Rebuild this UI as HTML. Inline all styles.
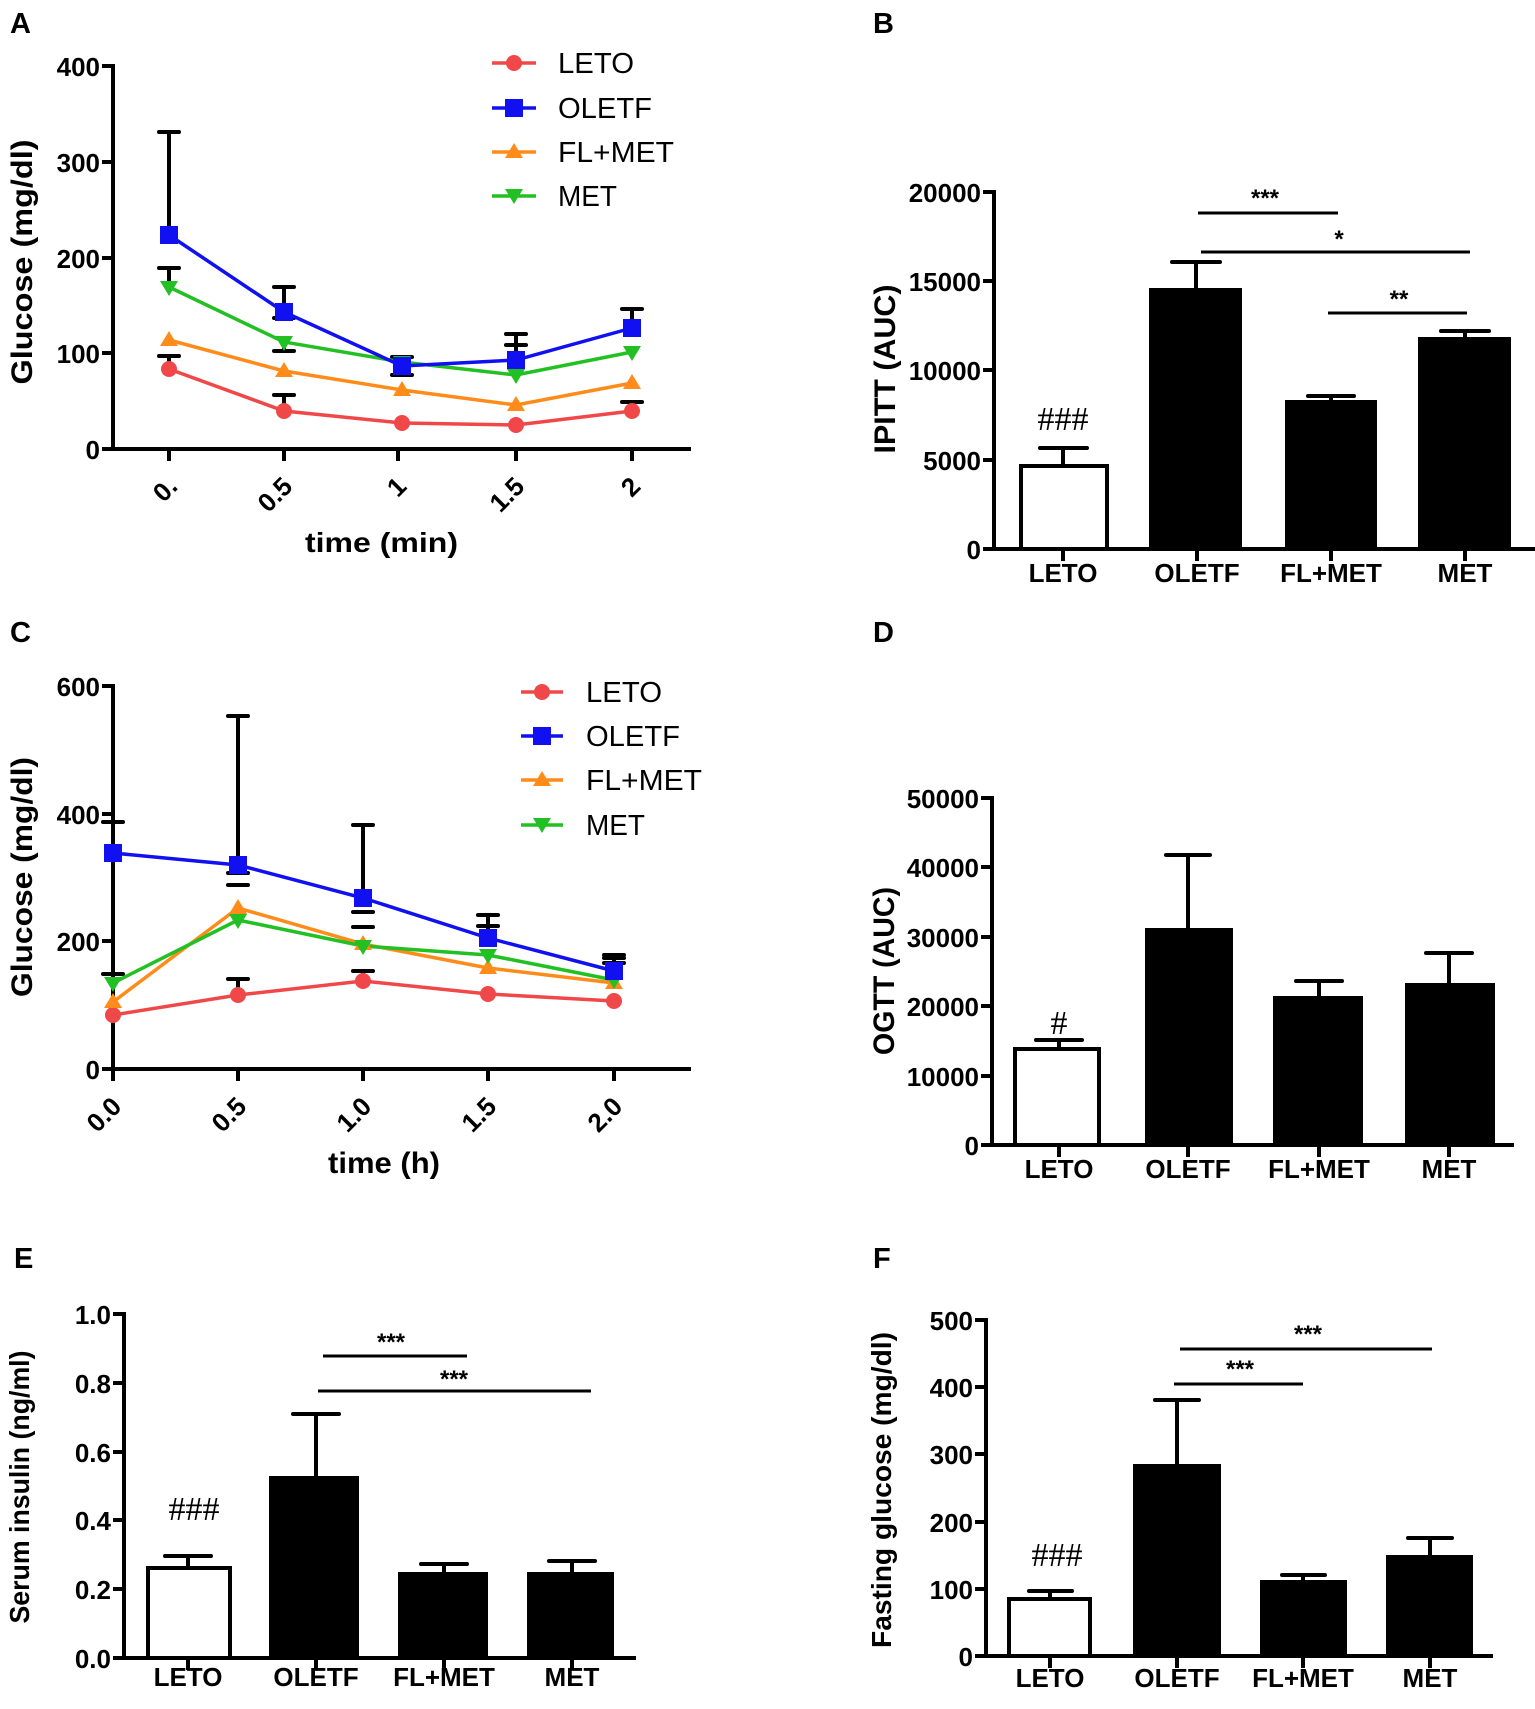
<!DOCTYPE html>
<html><head><meta charset="utf-8"><style>
html,body{margin:0;padding:0;background:#fff;}
svg{display:block;}
text{font-family:"Liberation Sans",Arial,sans-serif;}
.b{font-weight:bold;}
.t{font-size:26px;font-weight:bold;}
.ax{stroke:#000;stroke-width:4;fill:none;}
.eb{stroke:#000;stroke-width:4;fill:none;stroke-linecap:round;}
.sig{stroke:#000;stroke-width:3;}
.st{font-size:24px;font-weight:bold;}
.hash{font-family:"Liberation Serif",serif;font-size:34px;}
</style></head><body>
<svg width="1535" height="1709" viewBox="0 0 1535 1709" xmlns="http://www.w3.org/2000/svg">
<rect width="1535" height="1709" fill="#fff"/>

<!-- ============ PANEL A ============ -->
<text x="10" y="33" class="b" font-size="29">A</text>
<path class="ax" d="M113 64 V449 M113 449 H691"/>
<path class="ax" d="M102 66 H113 M102 162 H113 M102 258 H113 M102 353 H113 M102 449 H113"/>
<path class="ax" d="M169 449 V461 M284 449 V461 M398 449 V461 M516 449 V461 M632 449 V461"/>
<g class="t" text-anchor="end">
<text x="100" y="76">400</text><text x="100" y="172">300</text><text x="100" y="268">200</text><text x="100" y="363">100</text><text x="100" y="459">0</text>
</g>
<g class="t" text-anchor="end">
<text transform="translate(179,488) rotate(-45)">0.</text>
<text transform="translate(294,488) rotate(-45)">0.5</text>
<text transform="translate(408,488) rotate(-45)">1</text>
<text transform="translate(526,488) rotate(-45)">1.5</text>
<text transform="translate(642,488) rotate(-45)">2</text>
</g>
<text x="305" y="552" class="b" font-size="28" textLength="153" lengthAdjust="spacingAndGlyphs">time  (min)</text>
<text transform="translate(32,262) rotate(-90)" class="b" font-size="30" text-anchor="middle" textLength="245" lengthAdjust="spacingAndGlyphs">Glucose  (mg/dl)</text>
<g class="eb">
<path d="M169 235 V132 M159 132 H179"/>
<path d="M284 312 V287 M274 287 H294"/>
<path d="M516 360 V334 M506 334 H526"/>
<path d="M632 328 V309 M622 309 H642"/>
<path d="M169 287 V268 M159 268 H179"/>
<path d="M284 342 V351 M274 351 H294 M274 318 H294"/>
<path d="M402 362 V357 M392 357 H412 M392 375 H412"/>
<path d="M516 375 V345 M506 345 H526"/>
<path d="M169 369 V356 M159 356 H179"/>
<path d="M284 411 V395 M274 395 H294"/>
<path d="M632 411 V402 M622 402 H642"/>
</g>
<polyline points="169,369 284,411 402,423 516,425 632,411" fill="none" stroke="#f04848" stroke-width="3.5"/>
<polyline points="169,340 284,371 402,390 516,405 632,383" fill="none" stroke="#ff8c1a" stroke-width="3.5"/>
<polyline points="169,287 284,342 402,362 516,375 632,352" fill="none" stroke="#22c022" stroke-width="3.5"/>
<polyline points="169,235 284,312 402,366 516,360 632,328" fill="none" stroke="#1010f0" stroke-width="3.5"/>
<g fill="#f04848"><circle cx="169" cy="369" r="8"/><circle cx="284" cy="411" r="8"/><circle cx="402" cy="423" r="8"/><circle cx="516" cy="425" r="8"/><circle cx="632" cy="411" r="8"/></g>
<g fill="#ff8c1a"><path d="M169 331 l9 15 h-18z M284 362 l9 15 h-18z M402 381 l9 15 h-18z M516 396 l9 15 h-18z M632 374 l9 15 h-18z"/></g>
<g fill="#22c022"><path d="M169 296 l9 -15 h-18z M284 351 l9 -15 h-18z M402 371 l9 -15 h-18z M516 384 l9 -15 h-18z M632 361 l9 -15 h-18z"/></g>
<g fill="#1010f0"><rect x="160" y="226" width="18" height="18"/><rect x="275" y="303" width="18" height="18"/><rect x="393" y="357" width="18" height="18"/><rect x="507" y="351" width="18" height="18"/><rect x="623" y="319" width="18" height="18"/></g>
<line x1="492" y1="63" x2="536" y2="63" stroke="#f04848" stroke-width="3.5"/><circle cx="514" cy="63" r="8" fill="#f04848"/>
<line x1="492" y1="108" x2="536" y2="108" stroke="#1010f0" stroke-width="3.5"/><rect x="505" y="99" width="18" height="18" fill="#1010f0"/>
<line x1="492" y1="152" x2="536" y2="152" stroke="#ff8c1a" stroke-width="3.5"/><path d="M514 143 l9 15 h-18z" fill="#ff8c1a"/>
<line x1="492" y1="196" x2="536" y2="196" stroke="#22c022" stroke-width="3.5"/><path d="M514 204 l9 -15 h-18z" fill="#22c022"/>
<g font-size="29">
<text x="558" y="73" textLength="76" lengthAdjust="spacingAndGlyphs">LETO</text>
<text x="558" y="118" textLength="94" lengthAdjust="spacingAndGlyphs">OLETF</text>
<text x="558" y="162" textLength="116" lengthAdjust="spacingAndGlyphs">FL+MET</text>
<text x="558" y="206" textLength="59" lengthAdjust="spacingAndGlyphs">MET</text>
</g>

<!-- ============ PANEL B ============ -->
<text x="873" y="33" class="b" font-size="29">B</text>
<path class="ax" d="M994 190 V549 M994 549 H1535"/>
<path class="ax" d="M983 192 H994 M983 281 H994 M983 370 H994 M983 460 H994 M983 549 H994"/>
<path class="ax" d="M1063 549 V561 M1197 549 V561 M1331 549 V561 M1465 549 V561"/>
<g class="t" text-anchor="end">
<text x="981" y="202">20000</text><text x="981" y="291">15000</text><text x="981" y="380">10000</text><text x="981" y="470">5000</text><text x="981" y="559">0</text>
</g>
<g class="t" text-anchor="middle">
<text x="1063" y="582">LETO</text><text x="1197" y="582">OLETF</text><text x="1331" y="582">FL+MET</text><text x="1465" y="582">MET</text>
</g>
<text transform="translate(895,369) rotate(-90)" class="b" font-size="30" text-anchor="middle" textLength="169" lengthAdjust="spacingAndGlyphs">IPITT  (AUC)</text>
<rect x="1021" y="466" width="86" height="83" fill="#fff" stroke="#000" stroke-width="4"/>
<rect x="1149" y="288" width="93" height="261" fill="#000"/>
<rect x="1285" y="400" width="92" height="149" fill="#000"/>
<rect x="1418" y="337" width="93" height="212" fill="#000"/>
<g class="eb">
<path d="M1063 464 V448 M1040 448 H1087"/>
<path d="M1196 288 V262 M1172 262 H1220"/>
<path d="M1331 400 V396 M1308 396 H1354"/>
<path d="M1465 337 V331 M1441 331 H1489"/>
</g>
<g class="sig"><line x1="1198" y1="213" x2="1338" y2="213"/><line x1="1201" y1="252" x2="1470" y2="252"/><line x1="1328" y1="313" x2="1467" y2="313"/></g>
<g class="st" text-anchor="middle"><text x="1265" y="206">***</text><text x="1339" y="247">*</text><text x="1399" y="307">**</text></g>
<text x="1063" y="430" class="hash" text-anchor="middle">###</text>

<!-- ============ PANEL C ============ -->
<text x="10" y="642" class="b" font-size="29">C</text>
<path class="ax" d="M113 684 V1069 M113 1069 H691"/>
<path class="ax" d="M102 686 H113 M102 814 H113 M102 941 H113 M102 1069 H113"/>
<path class="ax" d="M113 1069 V1081 M238 1069 V1081 M363 1069 V1081 M488 1069 V1081 M614 1069 V1081"/>
<g class="t" text-anchor="end">
<text x="100" y="696">600</text><text x="100" y="824">400</text><text x="100" y="951">200</text><text x="100" y="1079">0</text>
</g>
<g class="t" text-anchor="end">
<text transform="translate(123,1108) rotate(-45)">0.0</text>
<text transform="translate(248,1108) rotate(-45)">0.5</text>
<text transform="translate(373,1108) rotate(-45)">1.0</text>
<text transform="translate(498,1108) rotate(-45)">1.5</text>
<text transform="translate(624,1108) rotate(-45)">2.0</text>
</g>
<text x="328" y="1173" class="b" font-size="30" textLength="112" lengthAdjust="spacingAndGlyphs">time (h)</text>
<text transform="translate(32,877) rotate(-90)" class="b" font-size="30" text-anchor="middle" textLength="240" lengthAdjust="spacingAndGlyphs">Glucose  (mg/dl)</text>
<g class="eb">
<path d="M113 853 V822 M103 822 H123"/>
<path d="M113 983 V974 M103 974 H123"/>
<path d="M238 865 V716 M228 716 H248 M228 873 H248 M228 885 H248"/>
<path d="M238 995 V979 M228 979 H248"/>
<path d="M363 898 V825 M353 825 H373 M353 912 H373 M353 927 H373"/>
<path d="M363 981 V971 M353 971 H373"/>
<path d="M488 938 V915 M478 915 H498 M478 926 H498"/>
<path d="M614 971 V955 M604 955 H624 M604 958 H624 M604 963 H624"/>
</g>
<polyline points="113,1015 238,995 363,981 488,994 614,1001" fill="none" stroke="#f04848" stroke-width="3.5"/>
<polyline points="113,1002 238,908 363,944 488,968 614,983" fill="none" stroke="#ff8c1a" stroke-width="3.5"/>
<polyline points="113,983 238,920 363,946 488,955 614,980" fill="none" stroke="#22c022" stroke-width="3.5"/>
<polyline points="113,853 238,865 363,898 488,938 614,971" fill="none" stroke="#1010f0" stroke-width="3.5"/>
<g fill="#f04848"><circle cx="113" cy="1015" r="8"/><circle cx="238" cy="995" r="8"/><circle cx="363" cy="981" r="8"/><circle cx="488" cy="994" r="8"/><circle cx="614" cy="1001" r="8"/></g>
<g fill="#ff8c1a"><path d="M113 993 l9 15 h-18z M238 899 l9 15 h-18z M363 935 l9 15 h-18z M488 959 l9 15 h-18z M614 974 l9 15 h-18z"/></g>
<g fill="#22c022"><path d="M113 992 l9 -15 h-18z M238 929 l9 -15 h-18z M363 955 l9 -15 h-18z M488 964 l9 -15 h-18z M614 989 l9 -15 h-18z"/></g>
<g fill="#1010f0"><rect x="104" y="844" width="18" height="18"/><rect x="229" y="856" width="18" height="18"/><rect x="354" y="889" width="18" height="18"/><rect x="479" y="929" width="18" height="18"/><rect x="605" y="962" width="18" height="18"/></g>
<line x1="521" y1="692" x2="563" y2="692" stroke="#f04848" stroke-width="3.5"/><circle cx="542" cy="692" r="8" fill="#f04848"/>
<line x1="521" y1="736" x2="563" y2="736" stroke="#1010f0" stroke-width="3.5"/><rect x="533" y="727" width="18" height="18" fill="#1010f0"/>
<line x1="521" y1="780" x2="563" y2="780" stroke="#ff8c1a" stroke-width="3.5"/><path d="M542 771 l9 15 h-18z" fill="#ff8c1a"/>
<line x1="521" y1="825" x2="563" y2="825" stroke="#22c022" stroke-width="3.5"/><path d="M542 833 l9 -15 h-18z" fill="#22c022"/>
<g font-size="29">
<text x="586" y="702" textLength="76" lengthAdjust="spacingAndGlyphs">LETO</text>
<text x="586" y="746" textLength="94" lengthAdjust="spacingAndGlyphs">OLETF</text>
<text x="586" y="790" textLength="116" lengthAdjust="spacingAndGlyphs">FL+MET</text>
<text x="586" y="835" textLength="59" lengthAdjust="spacingAndGlyphs">MET</text>
</g>

<!-- ============ PANEL D ============ -->
<text x="873" y="642" class="b" font-size="29">D</text>
<path class="ax" d="M992 796 V1145 M992 1145 H1514"/>
<path class="ax" d="M981 798 H992 M981 867 H992 M981 937 H992 M981 1006 H992 M981 1076 H992 M981 1145 H992"/>
<path class="ax" d="M1059 1145 V1157 M1188 1145 V1157 M1319 1145 V1157 M1449 1145 V1157"/>
<g class="t" text-anchor="end">
<text x="979" y="808">50000</text><text x="979" y="877">40000</text><text x="979" y="947">30000</text><text x="979" y="1016">20000</text><text x="979" y="1086">10000</text><text x="979" y="1155">0</text>
</g>
<g class="t" text-anchor="middle">
<text x="1059" y="1178">LETO</text><text x="1188" y="1178">OLETF</text><text x="1319" y="1178">FL+MET</text><text x="1449" y="1178">MET</text>
</g>
<text transform="translate(894,971) rotate(-90)" class="b" font-size="30" text-anchor="middle" textLength="168" lengthAdjust="spacingAndGlyphs">OGTT (AUC)</text>
<rect x="1015" y="1049" width="84" height="96" fill="#fff" stroke="#000" stroke-width="4"/>
<rect x="1145" y="928" width="88" height="217" fill="#000"/>
<rect x="1273" y="996" width="90" height="149" fill="#000"/>
<rect x="1405" y="983" width="90" height="162" fill="#000"/>
<g class="eb">
<path d="M1059 1047 V1040 M1036 1040 H1082"/>
<path d="M1188 928 V855 M1166 855 H1210"/>
<path d="M1319 996 V981 M1296 981 H1342"/>
<path d="M1449 983 V953 M1426 953 H1472"/>
</g>
<text x="1059" y="1034" class="hash" text-anchor="middle">#</text>

<!-- ============ PANEL E ============ -->
<text x="14" y="1268" class="b" font-size="29">E</text>
<path class="ax" d="M124 1312 V1658 M124 1658 H636"/>
<path class="ax" d="M113 1314 H124 M113 1383 H124 M113 1452 H124 M113 1520 H124 M113 1589 H124 M113 1658 H124"/>
<path class="ax" d="M188 1658 V1670 M316 1658 V1670 M444 1658 V1670 M572 1658 V1670"/>
<g class="t" text-anchor="end">
<text x="111" y="1324">1.0</text><text x="111" y="1393">0.8</text><text x="111" y="1462">0.6</text><text x="111" y="1530">0.4</text><text x="111" y="1599">0.2</text><text x="111" y="1668">0.0</text>
</g>
<g class="t" text-anchor="middle">
<text x="188" y="1686">LETO</text><text x="316" y="1686">OLETF</text><text x="444" y="1686">FL+MET</text><text x="572" y="1686">MET</text>
</g>
<text transform="translate(29,1487) rotate(-90)" class="b" font-size="28" text-anchor="middle" textLength="273" lengthAdjust="spacingAndGlyphs">Serum insulin (ng/ml)</text>
<rect x="148" y="1568" width="82" height="90" fill="#fff" stroke="#000" stroke-width="4"/>
<rect x="269" y="1476" width="90" height="182" fill="#000"/>
<rect x="398" y="1572" width="90" height="86" fill="#000"/>
<rect x="527" y="1572" width="87" height="86" fill="#000"/>
<g class="eb">
<path d="M188 1566 V1556 M165 1556 H211"/>
<path d="M316 1476 V1414 M293 1414 H339"/>
<path d="M444 1572 V1564 M421 1564 H467"/>
<path d="M572 1572 V1561 M549 1561 H595"/>
</g>
<g class="sig"><line x1="323" y1="1356" x2="467" y2="1356"/><line x1="318" y1="1391" x2="591" y2="1391"/></g>
<g class="st" text-anchor="middle"><text x="391" y="1350">***</text><text x="454" y="1387">***</text></g>
<text x="194" y="1520" class="hash" text-anchor="middle">###</text>

<!-- ============ PANEL F ============ -->
<text x="873" y="1268" class="b" font-size="29">F</text>
<path class="ax" d="M986 1318 V1656 M986 1656 H1493"/>
<path class="ax" d="M975 1320 H986 M975 1387 H986 M975 1454 H986 M975 1522 H986 M975 1589 H986 M975 1656 H986"/>
<path class="ax" d="M1050 1656 V1668 M1177 1656 V1668 M1303 1656 V1668 M1430 1656 V1668"/>
<g class="t" text-anchor="end">
<text x="973" y="1330">500</text><text x="973" y="1397">400</text><text x="973" y="1464">300</text><text x="973" y="1532">200</text><text x="973" y="1599">100</text><text x="973" y="1666">0</text>
</g>
<g class="t" text-anchor="middle">
<text x="1050" y="1687">LETO</text><text x="1177" y="1687">OLETF</text><text x="1303" y="1687">FL+MET</text><text x="1430" y="1687">MET</text>
</g>
<text transform="translate(891,1490) rotate(-90)" class="b" font-size="28" text-anchor="middle" textLength="316" lengthAdjust="spacingAndGlyphs">Fasting glucose  (mg/dl)</text>
<rect x="1009" y="1599" width="81" height="57" fill="#fff" stroke="#000" stroke-width="4"/>
<rect x="1133" y="1464" width="88" height="192" fill="#000"/>
<rect x="1260" y="1580" width="87" height="76" fill="#000"/>
<rect x="1386" y="1555" width="87" height="101" fill="#000"/>
<g class="eb">
<path d="M1050 1597 V1591 M1029 1591 H1072"/>
<path d="M1177 1464 V1400 M1155 1400 H1199"/>
<path d="M1303 1580 V1575 M1282 1575 H1325"/>
<path d="M1430 1555 V1538 M1408 1538 H1452"/>
</g>
<g class="sig"><line x1="1174" y1="1384" x2="1303" y2="1384"/><line x1="1180" y1="1349" x2="1432" y2="1349"/></g>
<g class="st" text-anchor="middle"><text x="1240" y="1377">***</text><text x="1308" y="1342">***</text></g>
<text x="1057" y="1566" class="hash" text-anchor="middle">###</text>
</svg>
</body></html>
